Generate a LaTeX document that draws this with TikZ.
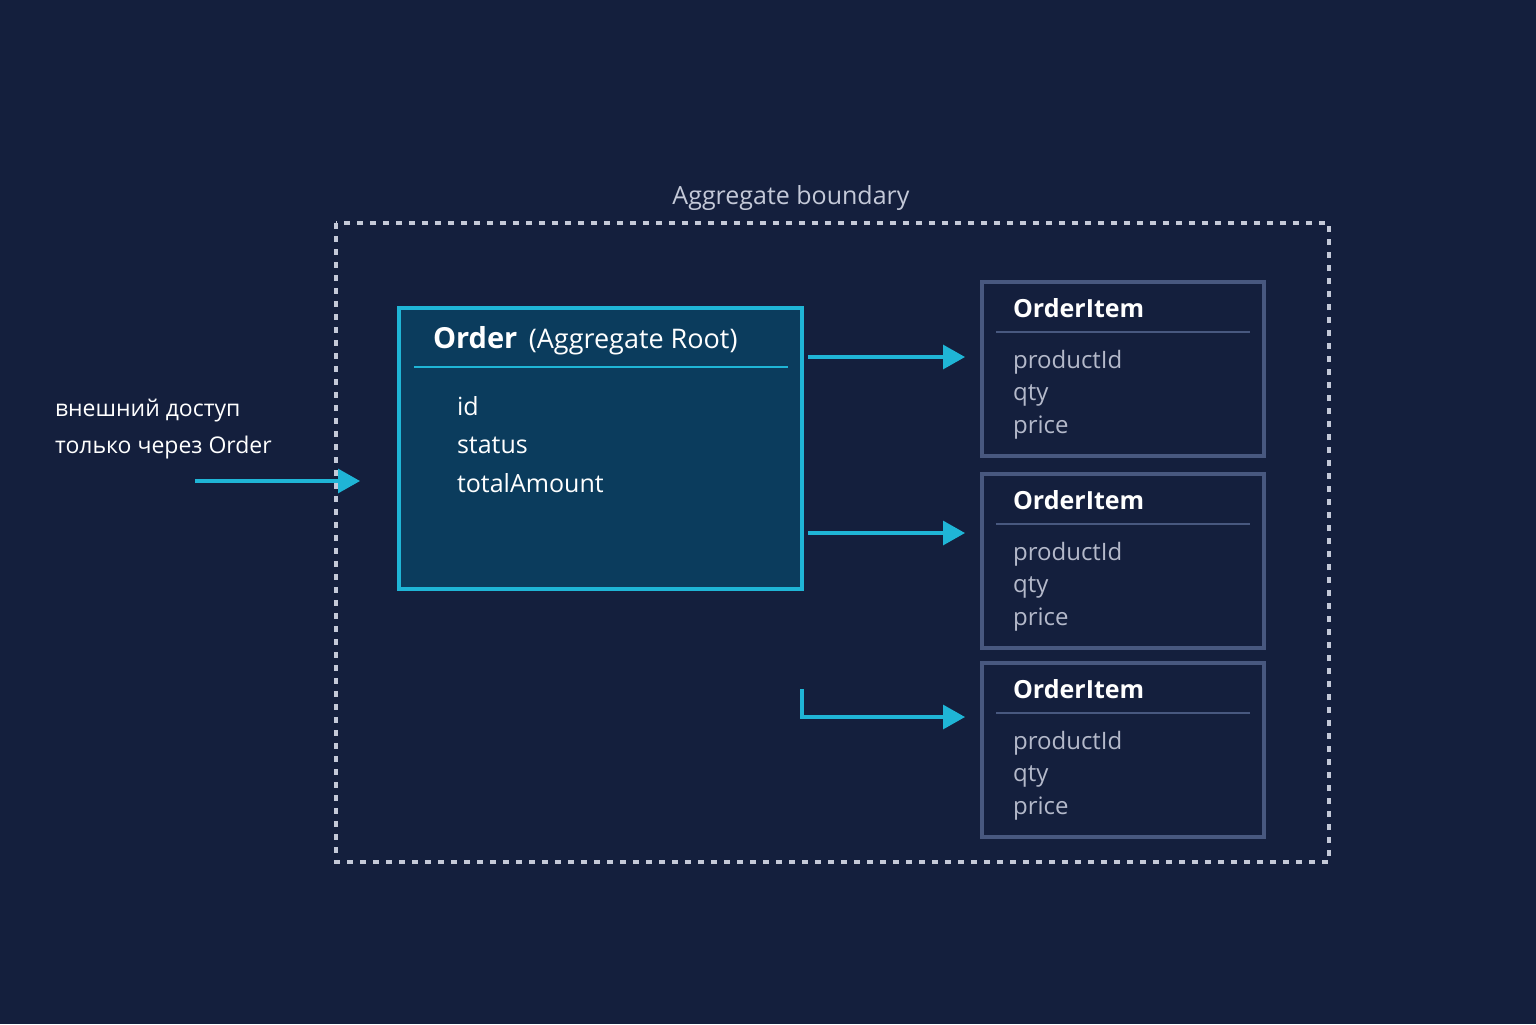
\documentclass[tikz,border=0pt]{standalone}
\usepackage{fontspec}
\setmainfont{Open Sans}
\usetikzlibrary{arrows.meta}
\definecolor{bg}{HTML}{141F3D}
\definecolor{rootfill}{HTML}{0B3C5D}
\definecolor{cyanc}{HTML}{1FB5D6}
\definecolor{itemb}{HTML}{48587F}
\definecolor{dashc}{HTML}{C4C9D8}
\definecolor{field}{HTML}{B4B9CA}
\begin{document}
\begin{tikzpicture}[x=0.5pt,y=-0.5pt,
  item/.style={draw=itemb,line width=1.6pt,fill=bg},
  conn/.style={draw=cyanc,line width=1.6pt,-{Triangle[length=11pt,width=12pt]}},
  ttl/.style={anchor=west,text=white,font=\fontsize{12.5}{14}\selectfont\bfseries},
  fld/.style={anchor=west,text=field,font=\fontsize{12}{14}\selectfont},
  lbl/.style={anchor=west,text=white,font=\fontsize{11.5}{14}\selectfont}]
\fill[bg] (0,0) rectangle (1536,1024);
\useasboundingbox (0,0) rectangle (1536,1024);
\draw[dashc,line width=1.6pt,dash pattern=on 3pt off 3.5pt] (336,223) rectangle (1329,862);
\node[text=dashc,font=\fontsize{12.5}{14}\selectfont] (blabel) at (791,198) {Aggregate boundary};
% root
\node[draw=cyanc,fill=rootfill,line width=1.6pt,minimum width=201.5pt,minimum height=140.5pt,inner sep=0pt] (root) at (600.5,448.5) {};
\draw[cyanc,line width=0.9pt] (414,367) -- (788,367);
\node[anchor=west,text=white,font=\fontsize{13.5}{16}\selectfont] (rt) at (426,341) {{\fontsize{14.5}{16}\selectfont\bfseries Order}\, (Aggregate Root)};
\node[lbl,font=\fontsize{12.5}{14}\selectfont] (f1) at (450,406) {id};
\node[lbl,font=\fontsize{12.5}{14}\selectfont] (f2) at (450,445) {status};
\node[lbl,font=\fontsize{12.5}{14}\selectfont] (f3) at (450,483) {totalAmount};
% items
\foreach \n/\t in {1/282,2/474,3/663}{
  \path[item] (982,\t) rectangle (1264,\t+174);
  \draw[itemb,line width=0.9pt] (996,\t+50) -- (1250,\t+50);
  \node[ttl] (it\n) at (1006,\t+26) {OrderItem};
  \node[fld] (p\n) at (1006,\t+80) {productId};
  \node[fld] (q\n) at (1006,\t+113) {qty};
  \node[fld] (r\n) at (1006,\t+146) {price};
}
\coordinate (a1s) at (808,357); \coordinate (a1e) at (965,357);
\coordinate (a2s) at (808,533); \coordinate (a2e) at (965,533);
\coordinate (a3s) at (802,689); \coordinate (a3e) at (965,717);
\coordinate (ls) at (195,481); \coordinate (le) at (360,481);
\draw[conn] (a1s) -- (a1e);
\draw[conn] (a2s) -- (a2e);
\draw[conn] (a3s) |- (a3e);
\draw[conn] (ls) -- (le);
\node[lbl] (t1) at (48,411) {внешний доступ};
\node[lbl] (t2) at (48,448) {только через Order};
\end{tikzpicture}
\end{document}
